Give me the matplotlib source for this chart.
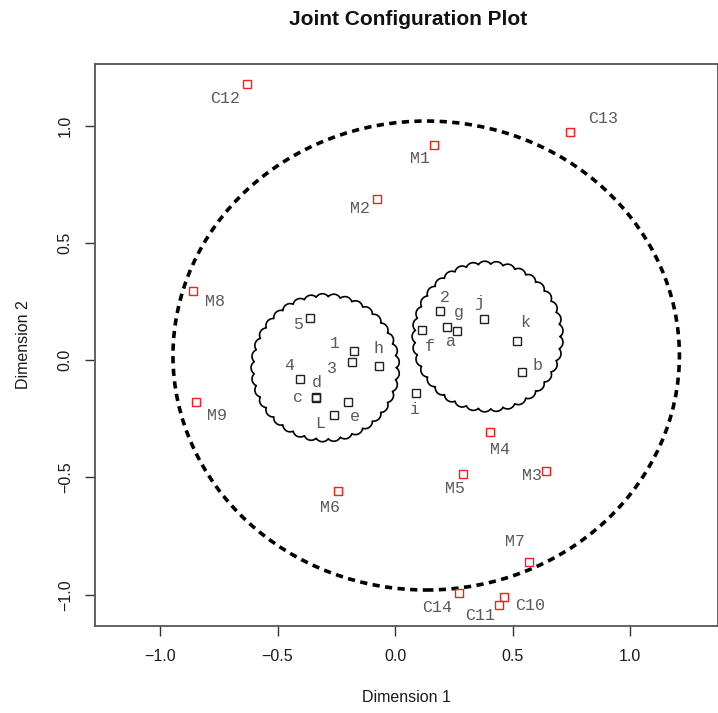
import matplotlib
matplotlib.use("Agg")
import matplotlib.pyplot as plt
from matplotlib.patches import Ellipse
import numpy as np

# stimulus points (black) and ideal points (red)
obj_names = ["1", "2", "3", "4", "5", "a", "b", "c", "d", "e", "f", "g", "h", "i", "j", "k", "L"]
obj_x = [-0.174, 0.193, -0.182, -0.406, -0.361, 0.264, 0.542, -0.338, -0.335, -0.202,
         0.114, 0.222, -0.069, 0.090, 0.379, 0.519, -0.259]
obj_y = [0.039, 0.210, -0.006, -0.079, 0.181, 0.125, -0.052, -0.161, -0.157, -0.180,
         0.128, 0.143, -0.023, -0.141, 0.174, 0.082, -0.235]

subj_names = ["M1", "M2", "M3", "M4", "M5", "M6", "M7", "M8", "M9",
              "C10", "C11", "C12", "C13", "C14"]
subj_x = [0.164, -0.075, 0.641, 0.406, 0.289, -0.243, 0.570, -0.860, -0.847,
          0.465, 0.442, -0.630, 0.746, 0.274]
subj_y = [0.916, 0.689, -0.472, -0.307, -0.484, -0.558, -0.862, 0.295, -0.177,
          -1.011, -1.045, 1.178, 0.973, -0.993]

# cluster outlines: (cx, cy, r)
clouds = [(-0.297, -0.032, 0.334), (0.394, 0.101, 0.340)]
# overall ring
ring = (0.1325, 0.020, 1.0775, 1.0)

# label placement in pixels (dx right, dy down)
obj_off = [(-19, -8), (4, -13), (-20, 7), (-11, -13), (-12, 7), (-6, 11), (15, -7),
           (-18, 0), (1, -15), (7, 14), (8, 16), (12, -14), (0, -17), (-1, 16),
           (-5, -17), (8, -18), (-14, 8)]
subj_off = [(-14, 13), (-17, 10), (-14, 5), (10, 17), (-8, 15), (-8, 16), (-14, -21),
            (22, 10), (21, 14), (26, 8), (-19, 10), (-22, 14), (33, -14), (-22, 14)]

fig = plt.figure(figsize=(7.18, 7.13), dpi=100)
ax = fig.add_axes([95.3 / 718, 1 - 626.3 / 713, (717.5 - 95.3) / 718, (626.3 - 63.7) / 713])
ax.set_xlim(-1.2755, 1.372)
ax.set_ylim(-1.1348, 1.2646)


def cloud(cx, cy, R, n=37):
    # scalloped circle: outward bumps between cusp points
    r0 = R / (1 + 1.2 * np.sin(np.pi / n))
    xs, ys = [], []
    for k in range(n):
        a0 = 2 * np.pi * k / n
        a1 = 2 * np.pi * (k + 1) / n
        p0 = np.array([np.cos(a0), np.sin(a0)]) * r0
        p1 = np.array([np.cos(a1), np.sin(a1)]) * r0
        mid = (p0 + p1) / 2
        d = np.linalg.norm(p1 - p0) / 2
        rb = d * 1.2
        off = np.sqrt(rb**2 - d**2)
        c = mid - mid / np.linalg.norm(mid) * off
        s0 = np.arctan2(p0[1] - c[1], p0[0] - c[0])
        s1 = np.arctan2(p1[1] - c[1], p1[0] - c[0])
        if s1 < s0:
            s1 += 2 * np.pi
        t = np.linspace(s0, s1, 24)
        xs.extend(c[0] + rb * np.cos(t))
        ys.extend(c[1] + rb * np.sin(t))
    xs.append(xs[0])
    ys.append(ys[0])
    ax.plot(cx + np.array(xs), cy + np.array(ys), color="black", lw=1.2, zorder=2)


for c in clouds:
    cloud(*c)

ell = Ellipse((ring[0], ring[1]), 2 * ring[2], 2 * ring[3], fill=False,
              edgecolor="black", lw=2.6, linestyle=(0, (2.0, 1.5)), zorder=2)
ax.add_patch(ell)

ax.plot(obj_x, obj_y, "s", ms=6, mfc="none", mec="#222222", mew=1.0, zorder=3)
ax.plot(subj_x, subj_y, "s", ms=6, mfc="none", mec="#ff1a1a", mew=1.0, zorder=3)

lab_kw = dict(textcoords="offset pixels", ha="center", va="center",
              family="Liberation Mono", fontsize=12, color="#5a5a5a")
for nm, x, y, (dx, dy) in zip(obj_names, obj_x, obj_y, obj_off):
    ax.annotate(nm, (x, y), xytext=(dx, -dy), **lab_kw)
for nm, x, y, (dx, dy) in zip(subj_names, subj_x, subj_y, subj_off):
    ax.annotate(nm, (x, y), xytext=(dx, -dy), **lab_kw)

ticks = [-1.0, -0.5, 0.0, 0.5, 1.0]
tick_labels = [("%.1f" % t).replace("-", "\u2212") for t in ticks]
ax.set_xticks(ticks)
ax.set_yticks(ticks)
ax.set_xticklabels(tick_labels)
ax.set_yticklabels(tick_labels, rotation=90, va="center")
ax.tick_params(length=7.2, width=1.0, color="#333333", pad=9, labelsize=11.5,
               labelcolor="#1a1a1a")
for lbl in ax.get_xticklabels() + ax.get_yticklabels():
    lbl.set_family("Liberation Sans")
for sp in ax.spines.values():
    sp.set_color("#555555")
    sp.set_linewidth(1.3)

ax.set_xlabel("Dimension 1", family="Liberation Sans", fontsize=11.5, labelpad=19, color="#1a1a1a")
ax.set_ylabel("Dimension 2", family="Liberation Sans", fontsize=11.5, labelpad=19, color="#1a1a1a")
fig.text(408 / 718, 1 - 19.5 / 713, "Joint Configuration Plot", ha="center", va="center",
         family="Liberation Sans", fontsize=15, fontweight="bold", color="#111111")

fig.savefig("out.png", dpi=100)
